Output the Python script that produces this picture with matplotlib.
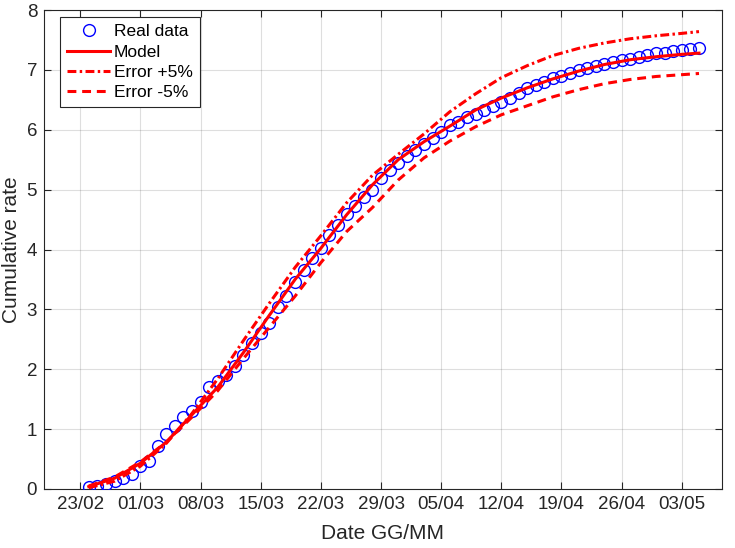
import matplotlib
matplotlib.use("Agg")
import matplotlib.pyplot as plt
import numpy as np

plt.rcParams['font.family'] = ['Liberation Sans', 'DejaVu Sans']

# x positions in days after 23/02/2020
tick_days = [0, 7, 14, 21, 28, 35, 42, 49, 56, 63, 70]
tick_labels = ["23/02", "01/03", "08/03", "15/03", "22/03", "29/03",
               "05/04", "12/04", "19/04", "26/04", "03/05"]

# Real data: daily from 24/02 (day 1) to 05/05 (day 72)
data_days = list(range(1, 73))
real_data = [0.04, 0.05, 0.09, 0.13, 0.18, 0.25, 0.39, 0.47, 0.71, 0.91,
             1.06, 1.21, 1.31, 1.46, 1.70, 1.80, 1.91, 2.06, 2.24, 2.43,
             2.61, 2.78, 3.04, 3.22, 3.46, 3.66, 3.85, 4.02, 4.24, 4.41,
             4.60, 4.73, 4.87, 5.00, 5.19, 5.33, 5.45, 5.56, 5.66, 5.76,
             5.86, 5.96, 6.08, 6.13, 6.21, 6.27, 6.33, 6.40, 6.47, 6.53,
             6.62, 6.69, 6.75, 6.80, 6.86, 6.90, 6.94, 6.99, 7.03, 7.06,
             7.10, 7.13, 7.16, 7.19, 7.22, 7.25, 7.28, 7.29, 7.32, 7.33,
             7.35, 7.37]

# Model curves (sampled)
model_days = [1, 4, 7, 10, 13, 16, 19, 22, 25, 28, 31, 34, 37, 40, 43,
              46, 49, 52, 55, 58, 61, 64, 67, 70, 72]
model = [0.04, 0.18, 0.43, 0.78, 1.24, 1.70, 2.28, 2.90, 3.50, 4.02,
         4.58, 5.08, 5.50, 5.80, 6.06, 6.33, 6.53, 6.70, 6.85, 6.98,
         7.09, 7.17, 7.22, 7.26, 7.28]
err_plus = [0.02, 0.13, 0.38, 0.76, 1.26, 1.84, 2.48, 3.10, 3.70, 4.23,
            4.78, 5.24, 5.59, 5.93, 6.30, 6.60, 6.87, 7.07, 7.24, 7.36,
            7.45, 7.52, 7.57, 7.61, 7.64]
err_minus = [0.05, 0.20, 0.45, 0.78, 1.20, 1.64, 2.18, 2.70, 3.22, 3.78,
             4.30, 4.70, 5.16, 5.53, 5.81, 6.05, 6.25, 6.40, 6.55, 6.67,
             6.77, 6.84, 6.89, 6.92, 6.94]

fig = plt.figure(figsize=(7.35, 5.48), dpi=100)
ax = fig.add_axes([0.060, 0.1077, 0.922, 0.874])

ax.plot(data_days, real_data, 'o', mfc='none', mec=(0, 0, 1), ms=8.5,
        mew=1.0, label='Real data', zorder=3)
ax.plot(model_days, model, '-', color=(1, 0, 0), lw=2.2, label='Model', zorder=4)
ax.plot(model_days, err_plus, color=(1, 0, 0), lw=2.2,
        linestyle=(0, (2.9, 1.1, 0.8, 1.1)), label='Error +5%', zorder=4)
ax.plot(model_days, err_minus, color=(1, 0, 0), lw=2.2,
        linestyle=(0, (2.9, 1.9)), label='Error -5%', zorder=4)

ax.set_xlim(-4.2, 74.65)
ax.set_ylim(0, 8)
ax.set_xticks(tick_days)
ax.set_xticklabels(tick_labels)
ax.set_yticks(range(0, 9))

tc = (0.15, 0.15, 0.15)
ax.grid(True, color=(0.15, 0.15, 0.15), alpha=0.15, lw=0.8)
ax.set_axisbelow(True)
ax.tick_params(direction='in', length=5, width=0.8, colors=tc,
               labelsize=13.5, top=True, right=True)
ax.tick_params(axis='x', pad=5)
ax.tick_params(axis='y', pad=5)
for s in ax.spines.values():
    s.set_color(tc)
    s.set_linewidth(0.8)

ax.set_xlabel('Date GG/MM', fontsize=15, color=tc)
ax.set_ylabel('Cumulative rate', fontsize=15, color=tc)
ax.xaxis.set_label_coords(0.5, -0.074)
ax.yaxis.set_label_coords(-0.034, 0.5)

leg = ax.legend(loc='upper left', bbox_to_anchor=(0.0236, 0.985),
                fontsize=12.5, fancybox=False, edgecolor=tc, framealpha=1,
                handlelength=2.5, handletextpad=0.2, borderpad=0.4,
                labelspacing=0.3, borderaxespad=0)
leg.get_frame().set_linewidth(0.8)
for t in leg.get_texts():
    t.set_color('black')

fig.savefig('out.png', dpi=100)
